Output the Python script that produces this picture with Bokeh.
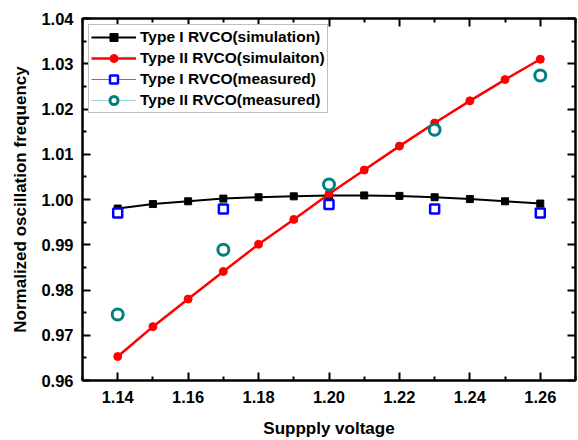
import numpy as np
from bokeh.plotting import figure
from bokeh.models import (FixedTicker, LinearAxis, Legend, LegendItem,
                          NumeralTickFormatter, CustomJSTickFormatter,
                          ColumnDataSource, Range1d)
from bokeh.embed import file_html
from bokeh.resources import INLINE

# ---- data ----
voltage_sim = [1.14, 1.15, 1.16, 1.17, 1.18, 1.19, 1.20, 1.21, 1.22, 1.23, 1.24, 1.25, 1.26]
type1_sim = [0.9980, 0.9990, 0.9996, 1.0002, 1.0005, 1.0007, 1.0009, 1.0009, 1.0008, 1.0005, 1.0001, 0.9996, 0.9991]
type2_sim = [0.9653, 0.9719, 0.9780, 0.9841, 0.9901, 0.9956, 1.0012, 1.0065, 1.0118, 1.0169, 1.0218, 1.0265, 1.0310]
voltage_meas = [1.14, 1.17, 1.20, 1.23, 1.26]
type1_meas = [0.9970, 0.9979, 0.9989, 0.9979, 0.9970]
type2_meas = [0.9746, 0.9889, 1.0033, 1.0154, 1.0274]

x_major = [1.14, 1.16, 1.18, 1.20, 1.22, 1.24, 1.26]
x_minor = [1.13, 1.15, 1.17, 1.19, 1.21, 1.23, 1.25, 1.27]
y_major = [0.96, 0.97, 0.98, 0.99, 1.00, 1.01, 1.02, 1.03, 1.04]
y_minor = [0.965, 0.975, 0.985, 0.995, 1.005, 1.015, 1.025, 1.035]

labels = ["Type I RVCO(simulation)", "Type II RVCO(simulaiton)",
          "Type I RVCO(measured)", "Type II RVCO(measured)"]

FONT = "Liberation Sans"

p = figure(width=578, height=440, output_backend="svg", toolbar_location=None,
           x_range=Range1d(1.13, 1.27), y_range=Range1d(0.96, 1.04),
           min_border_left=82, min_border_right=3, min_border_top=18, min_border_bottom=60)
p.xgrid.visible = False
p.ygrid.visible = False
p.outline_line_color = "black"
p.outline_line_width = 2
p.background_fill_color = "white"
p.border_fill_color = "white"

def style_axis(ax):
    ax.axis_line_width = 2
    ax.axis_line_color = "black"
    ax.major_tick_in = 8
    ax.major_tick_out = 0
    ax.minor_tick_in = 4
    ax.minor_tick_out = 0
    ax.major_tick_line_width = 2
    ax.minor_tick_line_width = 2
    ax.major_label_text_font = FONT
    ax.major_label_text_font_style = "bold"
    ax.major_label_text_font_size = "16.5px"
    ax.major_label_text_color = "black"
    ax.axis_label_text_font = FONT
    ax.axis_label_text_font_style = "bold"
    ax.axis_label_text_font_size = "17px"
    ax.axis_label_text_color = "black"

xt = FixedTicker(ticks=x_major, minor_ticks=x_minor)
yt = FixedTicker(ticks=y_major, minor_ticks=y_minor)

p.xaxis.ticker = xt
p.yaxis.ticker = yt
p.xaxis.formatter = NumeralTickFormatter(format="0.00")
p.yaxis.formatter = NumeralTickFormatter(format="0.00")
p.xaxis.axis_label = "Suppply voltage"
p.yaxis.axis_label = "Normalized oscillation frequency"
style_axis(p.xaxis[0])
style_axis(p.yaxis[0])
p.xaxis.major_label_standoff = 10
p.yaxis.major_label_standoff = 9
p.xaxis.axis_label_standoff = 13
p.yaxis.axis_label_standoff = 8

blank = CustomJSTickFormatter(code="return '';")
top_ax = LinearAxis(ticker=xt, formatter=blank)
right_ax = LinearAxis(ticker=yt, formatter=blank)
for ax in (top_ax, right_ax):
    style_axis(ax)
    ax.major_label_standoff = 0
p.add_layout(top_ax, "above")
p.add_layout(right_ax, "right")

# ---- series ----
r1l = p.line(voltage_sim, type1_sim, line_color="black", line_width=2)
r1m = p.scatter(voltage_sim, type1_sim, marker="square", size=7, fill_color="black", line_color="black")
r2l = p.line(voltage_sim, type2_sim, line_color="#ff0000", line_width=2.5)
r2m = p.scatter(voltage_sim, type2_sim, marker="circle", size=8, fill_color="#ff0000", line_color="#ff0000")

nan_src = ColumnDataSource(dict(x=[np.nan], y=[np.nan]))
r3l = p.line("x", "y", source=nan_src, line_color="#0000ff", line_width=1, line_alpha=0.6)
r3m = p.scatter(voltage_meas, type1_meas, marker="square", size=9, fill_color="white",
                line_color="#0000ff", line_width=2.5)
r4l = p.line("x", "y", source=nan_src, line_color="#9fd6d6", line_width=1)
r4m = p.scatter(voltage_meas, type2_meas, marker="circle", size=11, fill_color="white",
                line_color="#008080", line_width=3)

legend = Legend(items=[
    LegendItem(label=labels[0], renderers=[r1l, r1m]),
    LegendItem(label=labels[1], renderers=[r2l, r2m]),
    LegendItem(label=labels[2], renderers=[r3l, r3m]),
    LegendItem(label=labels[3], renderers=[r4l, r4m]),
], location="top_left")
legend.margin = 6
legend.padding = 2
legend.spacing = 1
legend.glyph_width = 45
legend.glyph_height = 20
legend.label_height = 20
legend.label_standoff = 4
legend.label_text_font = FONT
legend.label_text_font_style = "bold"
legend.label_text_font_size = "15.5px"
legend.label_text_color = "black"
legend.border_line_color = "#808080"
legend.border_line_width = 1
legend.background_fill_color = "white"
legend.background_fill_alpha = 1
p.add_layout(legend, "center")

open("out.html", "w").write(file_html(p, INLINE))
